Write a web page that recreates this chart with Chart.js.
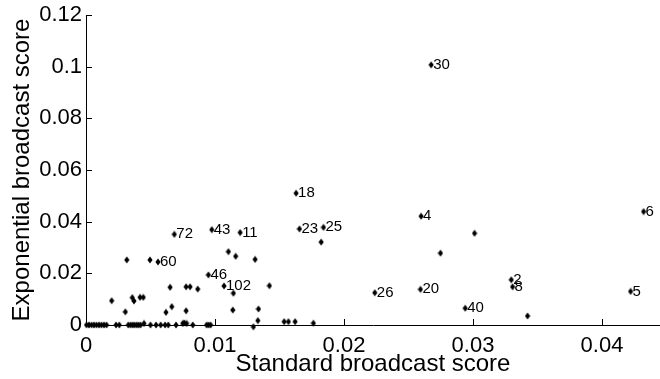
<!DOCTYPE html>
<html>
<head>
<meta charset="utf-8">
<script src="https://cdn.jsdelivr.net/npm/chart.js@4"></script>
<style>
  html, body { margin: 0; padding: 0; background: #fff; }
  #wrap { width: 660px; height: 379px; }
</style>
</head>
<body>
<div id="wrap"><canvas id="chart" width="660" height="379"></canvas></div>
<script>
// ── DATA ─────────────────────────────────────────────────────────────────────
// labelled nodes
const namedX     = [0.02676, 0.01629, 0.01655, 0.01841, 0.02598, 0.02239, 0.02593, 0.0294,
                    0.03297, 0.03307, 0.04222, 0.04323, 0.00685, 0.00975, 0.01195, 0.00558,
                    0.00949, 0.0107];
const namedY     = [0.1007, 0.0510, 0.0372, 0.0378, 0.0421, 0.0125, 0.0138, 0.0065,
                    0.0175, 0.0148, 0.0130, 0.0439, 0.0351, 0.0369, 0.0358, 0.0244,
                    0.0194, 0.0151];
const namedLabel = ["30", "18", "23", "25", "4", "26", "20", "40",
                    "2", "8", "5", "6", "72", "43", "11", "60",
                    "46", "102"];

// unlabelled nodes
const otherX = [0.01823, 0.02748, 0.03012, 0.03423, 0.01104, 0.0116, 0.01311, 0.00496,
                0.00316, 0.00199, 0.00305, 0.00359, 0.00372, 0.00419, 0.00444, 0.0062,
                0.00665, 0.00652, 0.00776, 0.00807, 0.00866, 0.00776, 0.01143, 0.01138,
                0.01337, 0.01332, 0.01298, 0.01422, 0.01536, 0.01569, 0.01621, 0.01763,
                0.00004, 0.00023, 0.00043, 0.00062, 0.00081, 0.00101, 0.0012, 0.0014,
                0.00159, 0.00233, 0.00258, 0.00328, 0.00345, 0.00361, 0.00376, 0.00392,
                0.00407, 0.00423, 0.0045, 0.005, 0.00543, 0.00579, 0.00613, 0.00638,
                0.00698, 0.0075, 0.00762, 0.0078, 0.00828, 0.00935, 0.0095, 0.00966];
const otherY = [0.0321, 0.0278, 0.0355, 0.0035, 0.0284, 0.0266, 0.0254, 0.0252,
                0.0252, 0.0094, 0.0051, 0.0106, 0.0093, 0.0107, 0.0107, 0.0049,
                0.0071, 0.0146, 0.0148, 0.0148, 0.0139, 0.0055, 0.0123, 0.0058,
                0.0062, 0.0017, -0.0007, 0.0152, 0.0013, 0.0013, 0.0013, 0.0007,
                0, 0, 0, 0, 0, 0, 0, 0,
                0, 0, 0, 0, 0, 0, 0, 0,
                0, 0, 0.0006, 0, 0, 0, 0, 0,
                0, 0.0006, 0.0008, 0.0006, 0, 0, 0, 0];

const xTicks = [0, 0.01, 0.02, 0.03, 0.04];
const yTicks = [0, 0.02, 0.04, 0.06, 0.08, 0.1, 0.12];

const FONT = "'Liberation Sans', Arial, Helvetica, sans-serif";

// ── MARKER ───────────────────────────────────────────────────────────────────
function makeDiamond() {
  const c = document.createElement("canvas");
  c.width = 6; c.height = 8;
  const g = c.getContext("2d");
  g.fillStyle = "#000";
  g.beginPath();
  g.moveTo(3, 0.5);
  g.lineTo(5.6, 4);
  g.lineTo(3, 7.5);
  g.lineTo(0.4, 4);
  g.closePath();
  g.fill();
  return c;
}
const diamond = makeDiamond();

// ── PLUGINS ──────────────────────────────────────────────────────────────────
const pointLabels = {
  id: "pointLabels",
  afterDatasetsDraw(chart) {
    const ctx = chart.ctx;
    const meta = chart.getDatasetMeta(0);
    ctx.save();
    ctx.fillStyle = "#000";
    ctx.font = `15px ${FONT}`;
    ctx.textAlign = "left";
    ctx.textBaseline = "middle";
    meta.data.forEach((pt, i) => {
      ctx.fillText(namedLabel[i], pt.x + 2, pt.y);
    });
    ctx.restore();
  }
};

// ticks drawn inward, like the original figure
const innerTicks = {
  id: "innerTicks",
  afterDraw(chart) {
    const ctx = chart.ctx;
    const xs = chart.scales.x, ys = chart.scales.y;
    ctx.save();
    ctx.strokeStyle = "#000";
    ctx.lineWidth = 1;
    ctx.beginPath();
    xTicks.forEach(v => {
      if (v === 0) return;
      const px = Math.round(xs.getPixelForValue(v)) + 0.5;
      ctx.moveTo(px, ys.bottom);
      ctx.lineTo(px, ys.bottom - 6);
    });
    yTicks.forEach(v => {
      if (v === 0) return;
      const py = Math.round(ys.getPixelForValue(v)) + 0.5;
      ctx.moveTo(xs.left, py);
      ctx.lineTo(xs.left + 6, py);
    });
    ctx.stroke();
    ctx.restore();
  }
};

// ── CHART ────────────────────────────────────────────────────────────────────
const fmt = v => String(+v.toFixed(4));

new Chart(document.getElementById("chart"), {
  type: "scatter",
  data: {
    datasets: [
      {
        data: namedX.map((x, i) => ({ x, y: namedY[i] })),
        pointStyle: diamond,
        clip: false
      },
      {
        data: otherX.map((x, i) => ({ x, y: otherY[i] })),
        pointStyle: diamond,
        clip: false
      }
    ]
  },
  options: {
    responsive: false,
    animation: false,
    events: [],
    layout: { autoPadding: false, padding: { top: 15, right: 0, left: 0, bottom: 0 } },
    plugins: { legend: { display: false }, tooltip: { enabled: false } },
    scales: {
      x: {
        type: "linear",
        min: 0,
        max: 0.0445,
        afterBuildTicks: s => { s.ticks = xTicks.map(v => ({ value: v })); },
        afterFit: s => { s.height = 54; s.paddingRight = 0; s.paddingLeft = 0; },
        border: { display: true, color: "#000", width: 1 },
        grid: { display: true, drawOnChartArea: false, drawTicks: false },
        ticks: {
          color: "#000",
          font: { family: FONT, size: 22 },
          padding: 8,
          maxRotation: 0,
          autoSkip: false,
          callback: fmt
        },
        title: {
          display: true,
          text: "Standard broadcast score",
          color: "#000",
          font: { family: FONT, size: 24 },
          padding: { top: 0, bottom: 0 }
        }
      },
      y: {
        type: "linear",
        min: 0,
        max: 0.12,
        afterBuildTicks: s => { s.ticks = yTicks.map(v => ({ value: v })); },
        afterFit: s => { s.width = 86; s.paddingTop = 0; s.paddingBottom = 0; },
        border: { display: true, color: "#000", width: 1 },
        grid: { display: true, drawOnChartArea: false, drawTicks: false },
        ticks: {
          color: "#000",
          font: { family: FONT, size: 22 },
          padding: 4,
          autoSkip: false,
          callback: fmt
        },
        title: {
          display: true,
          text: "Exponential broadcast score",
          color: "#000",
          font: { family: FONT, size: 24 },
          padding: { top: 8, bottom: 0 }
        }
      }
    }
  },
  plugins: [pointLabels, innerTicks]
});
</script>
</body>
</html>
